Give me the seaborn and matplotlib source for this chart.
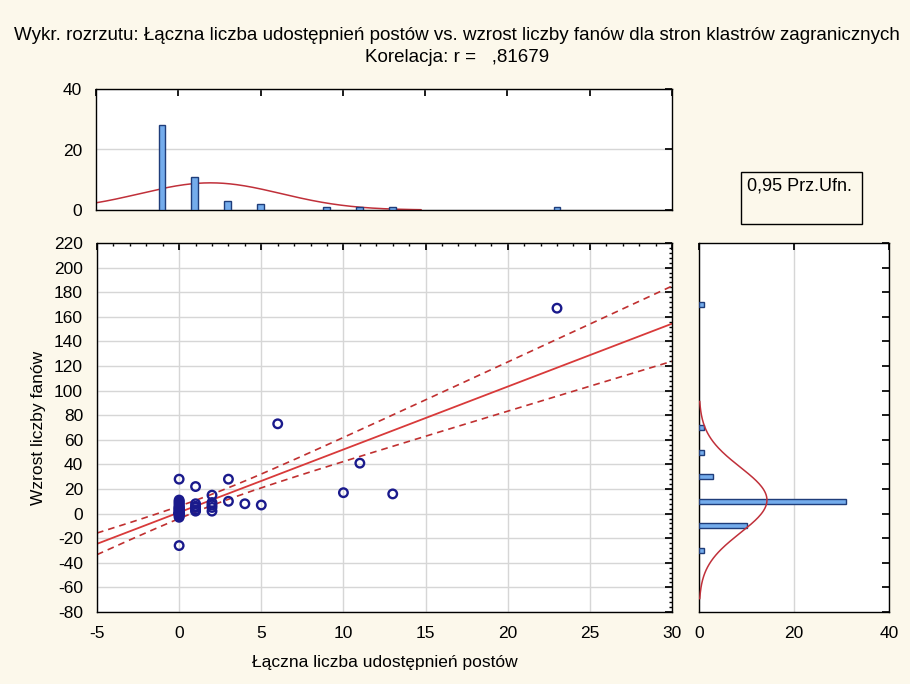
import numpy as np
import pandas as pd
import matplotlib
matplotlib.use("Agg")
import matplotlib.pyplot as plt
import seaborn as sns
from matplotlib.patches import Rectangle
from matplotlib.ticker import MultipleLocator

# ---- data ----
shares = [0]*28 + [1]*6 + [2]*5 + [3, 3, 4, 5, 6, 10, 11, 13, 23]
fans_x0 = [28, -26, 11, 10, 9, 8, 7, 6, 5, 5, 4, 4, 3, 3, 2, 2, 1, 1,
           0, 0, 0, 0, 0, 0, 0, -1, -2, -3]
fans_x1 = [22, 8, 6, 5, 3, 2]
fans_x2 = [15, 9, 7, 5, 2]
fans_rest = [28, 10, 8, 7, 73, 17, 41, 16, 167]
fans = fans_x0 + fans_x1 + fans_x2 + fans_rest

title_text = ("Wykr. rozrzutu: Łączna liczba udostępnień postów vs. wzrost liczby fanów "
              "dla stron klastrów zagranicznych\nKorelacja: r =   ,81679")
x_label = "Łączna liczba udostępnień postów"
y_label = "Wzrost liczby fanów"
legend_text = "0,95 Prz.Ufn."

df = pd.DataFrame({"x": shares, "y": fans})

sns.set_theme(style="white")
plt.rcParams['font.family'] = ['Liberation Sans', 'DejaVu Sans']
plt.rcParams['axes.unicode_minus'] = False
plt.rcParams['text.color'] = 'black'
plt.rcParams['axes.labelcolor'] = 'black'
plt.rcParams['xtick.color'] = 'black'
plt.rcParams['ytick.color'] = 'black'

BG = "#FCF8EB"
BAR_FC = "#74ACEC"
BAR_EC = "#1F3D7A"
CURVE = "#C0303A"
GRID = "#D6D6D6"
TICK_FS = 12.5

fig = plt.figure(figsize=(9.10, 6.84), dpi=100, facecolor=BG)
W, H = 910, 684
def box(l, t, r, b):
    return [l/W, (H-b)/H, (r-l)/W, (b-t)/H]

ax = fig.add_axes(box(97, 243, 672, 612))
axt = fig.add_axes(box(96, 89, 672, 210))
axr = fig.add_axes(box(699, 243, 889, 612))

# ---- main scatter ----
xlim = (-5, 30)
ylim = (-80, 220)
ax.set_xlim(*xlim); ax.set_ylim(*ylim)
ax.set_xticks(np.arange(-5, 31, 5))
ax.set_yticks(np.arange(-80, 221, 20))
ax.xaxis.set_minor_locator(MultipleLocator(1))
ax.yaxis.set_minor_locator(MultipleLocator(4))
ax.grid(True, which="major", color=GRID, lw=1)
ax.set_axisbelow(True)

# regression and 95% confidence band of the mean
x = df["x"].to_numpy(float); y = df["y"].to_numpy(float)
n = len(x)
b1, b0 = np.polyfit(x, y, 1)
xx = np.linspace(xlim[0], xlim[1], 200)
yy = b0 + b1*xx
res = y - (b0 + b1*x)
s = np.sqrt(np.sum(res**2)/(n-2))
Sxx = np.sum((x - x.mean())**2)
tval = 2.0129
half = tval*s*np.sqrt(1/n + (xx - x.mean())**2/Sxx)
line_df = pd.DataFrame({"x": xx, "fit": yy, "lo": yy-half, "hi": yy+half})
sns.lineplot(data=line_df, x="x", y="fit", ax=ax, color="#D83A3A", lw=1.3)
sns.lineplot(data=line_df, x="x", y="lo", ax=ax, color="#C03030", lw=1.2, linestyle=(0, (4, 3)))
sns.lineplot(data=line_df, x="x", y="hi", ax=ax, color="#C03030", lw=1.2, linestyle=(0, (4, 3)))

sns.scatterplot(data=df, x="x", y="y", ax=ax, marker="o", s=38,
                facecolors="none", edgecolor="#1A1A8C", linewidth=1.7, zorder=5)
ax.set_xlabel(x_label, fontsize=12.5, labelpad=10)
ax.set_ylabel(y_label, fontsize=12.5, labelpad=6)
ax.tick_params(which="major", direction="in", top=True, right=True, length=5,
               labelsize=TICK_FS)
ax.tick_params(axis="x", which="major", pad=10)
ax.tick_params(axis="y", which="major", pad=10)
ax.tick_params(which="minor", direction="in", top=True, right=True, length=2.5)

# ---- top histogram ----
xbins = np.arange(-6, 32, 2)
xc = pd.cut(df["x"], xbins, right=True)
xcounts = xc.value_counts(sort=False).to_numpy()
xcent = (xbins[:-1] + xbins[1:]) / 2
keep = xcounts > 0
axt.bar(xcent[keep], xcounts[keep], width=0.4, color=BAR_FC, edgecolor=BAR_EC, lw=1, zorder=3)
mu, sd = x.mean(), x.std(ddof=1)
gx = np.linspace(max(xlim[0], mu-3*sd), min(xlim[1], mu+3*sd), 200)
gy = n*2/(sd*np.sqrt(2*np.pi))*np.exp(-0.5*((gx-mu)/sd)**2)
sns.lineplot(x=gx, y=gy, ax=axt, color=CURVE, lw=1.1)
axt.set_xlim(*xlim); axt.set_ylim(0, 40)
axt.set_xticks(np.arange(-5, 31, 5)); axt.set_xticklabels([])
axt.set_yticks([0, 20, 40])
axt.yaxis.grid(True, color=GRID, lw=1); axt.xaxis.grid(False)
axt.set_axisbelow(True)
axt.tick_params(direction="in", top=True, right=True, length=5, labelsize=TICK_FS, pad=10)
axt.set_xlabel(""); axt.set_ylabel("")

# ---- right histogram ----
ybins = np.arange(-80, 221, 20)
yc = pd.cut(df["y"], ybins, right=True)
ycounts = yc.value_counts(sort=False).to_numpy()
ycent = (ybins[:-1] + ybins[1:]) / 2
keep = ycounts > 0
axr.barh(ycent[keep], ycounts[keep], height=4, color=BAR_FC, edgecolor=BAR_EC, lw=1, zorder=3)
my, sy = y.mean(), y.std(ddof=1)
gyy = np.linspace(max(ylim[0], my-3*sy), min(ylim[1], my+3*sy), 200)
gxx = n*20/(sy*np.sqrt(2*np.pi))*np.exp(-0.5*((gyy-my)/sy)**2)
axr.plot(gxx, gyy, color=CURVE, lw=1.1, zorder=4)
axr.set_ylim(*ylim); axr.set_xlim(0, 40)
axr.set_xticks([0, 20, 40])
axr.set_yticks(np.arange(-80, 221, 20)); axr.set_yticklabels([])
axr.xaxis.grid(True, color=GRID, lw=1); axr.yaxis.grid(False)
axr.set_axisbelow(True)
axr.tick_params(direction="in", top=True, right=True, length=5, labelsize=TICK_FS, pad=10)

for a in (ax, axt, axr):
    a.set_facecolor("white")
    for sp in a.spines.values():
        sp.set_color("black"); sp.set_linewidth(1.0)

# ---- legend box ----
fig.patches.append(Rectangle((741/W, (H-224)/H), 121/W, 52/H, transform=fig.transFigure,
                             facecolor=BG, edgecolor="black", lw=1.0))
fig.text(747/W, (H-186)/H, legend_text, fontsize=13, va="center", ha="left")

fig.suptitle(title_text, x=457/W, y=(H-27)/H, fontsize=13.5, va="top", linespacing=1.4)

fig.savefig("out.png", dpi=100, facecolor=BG)
